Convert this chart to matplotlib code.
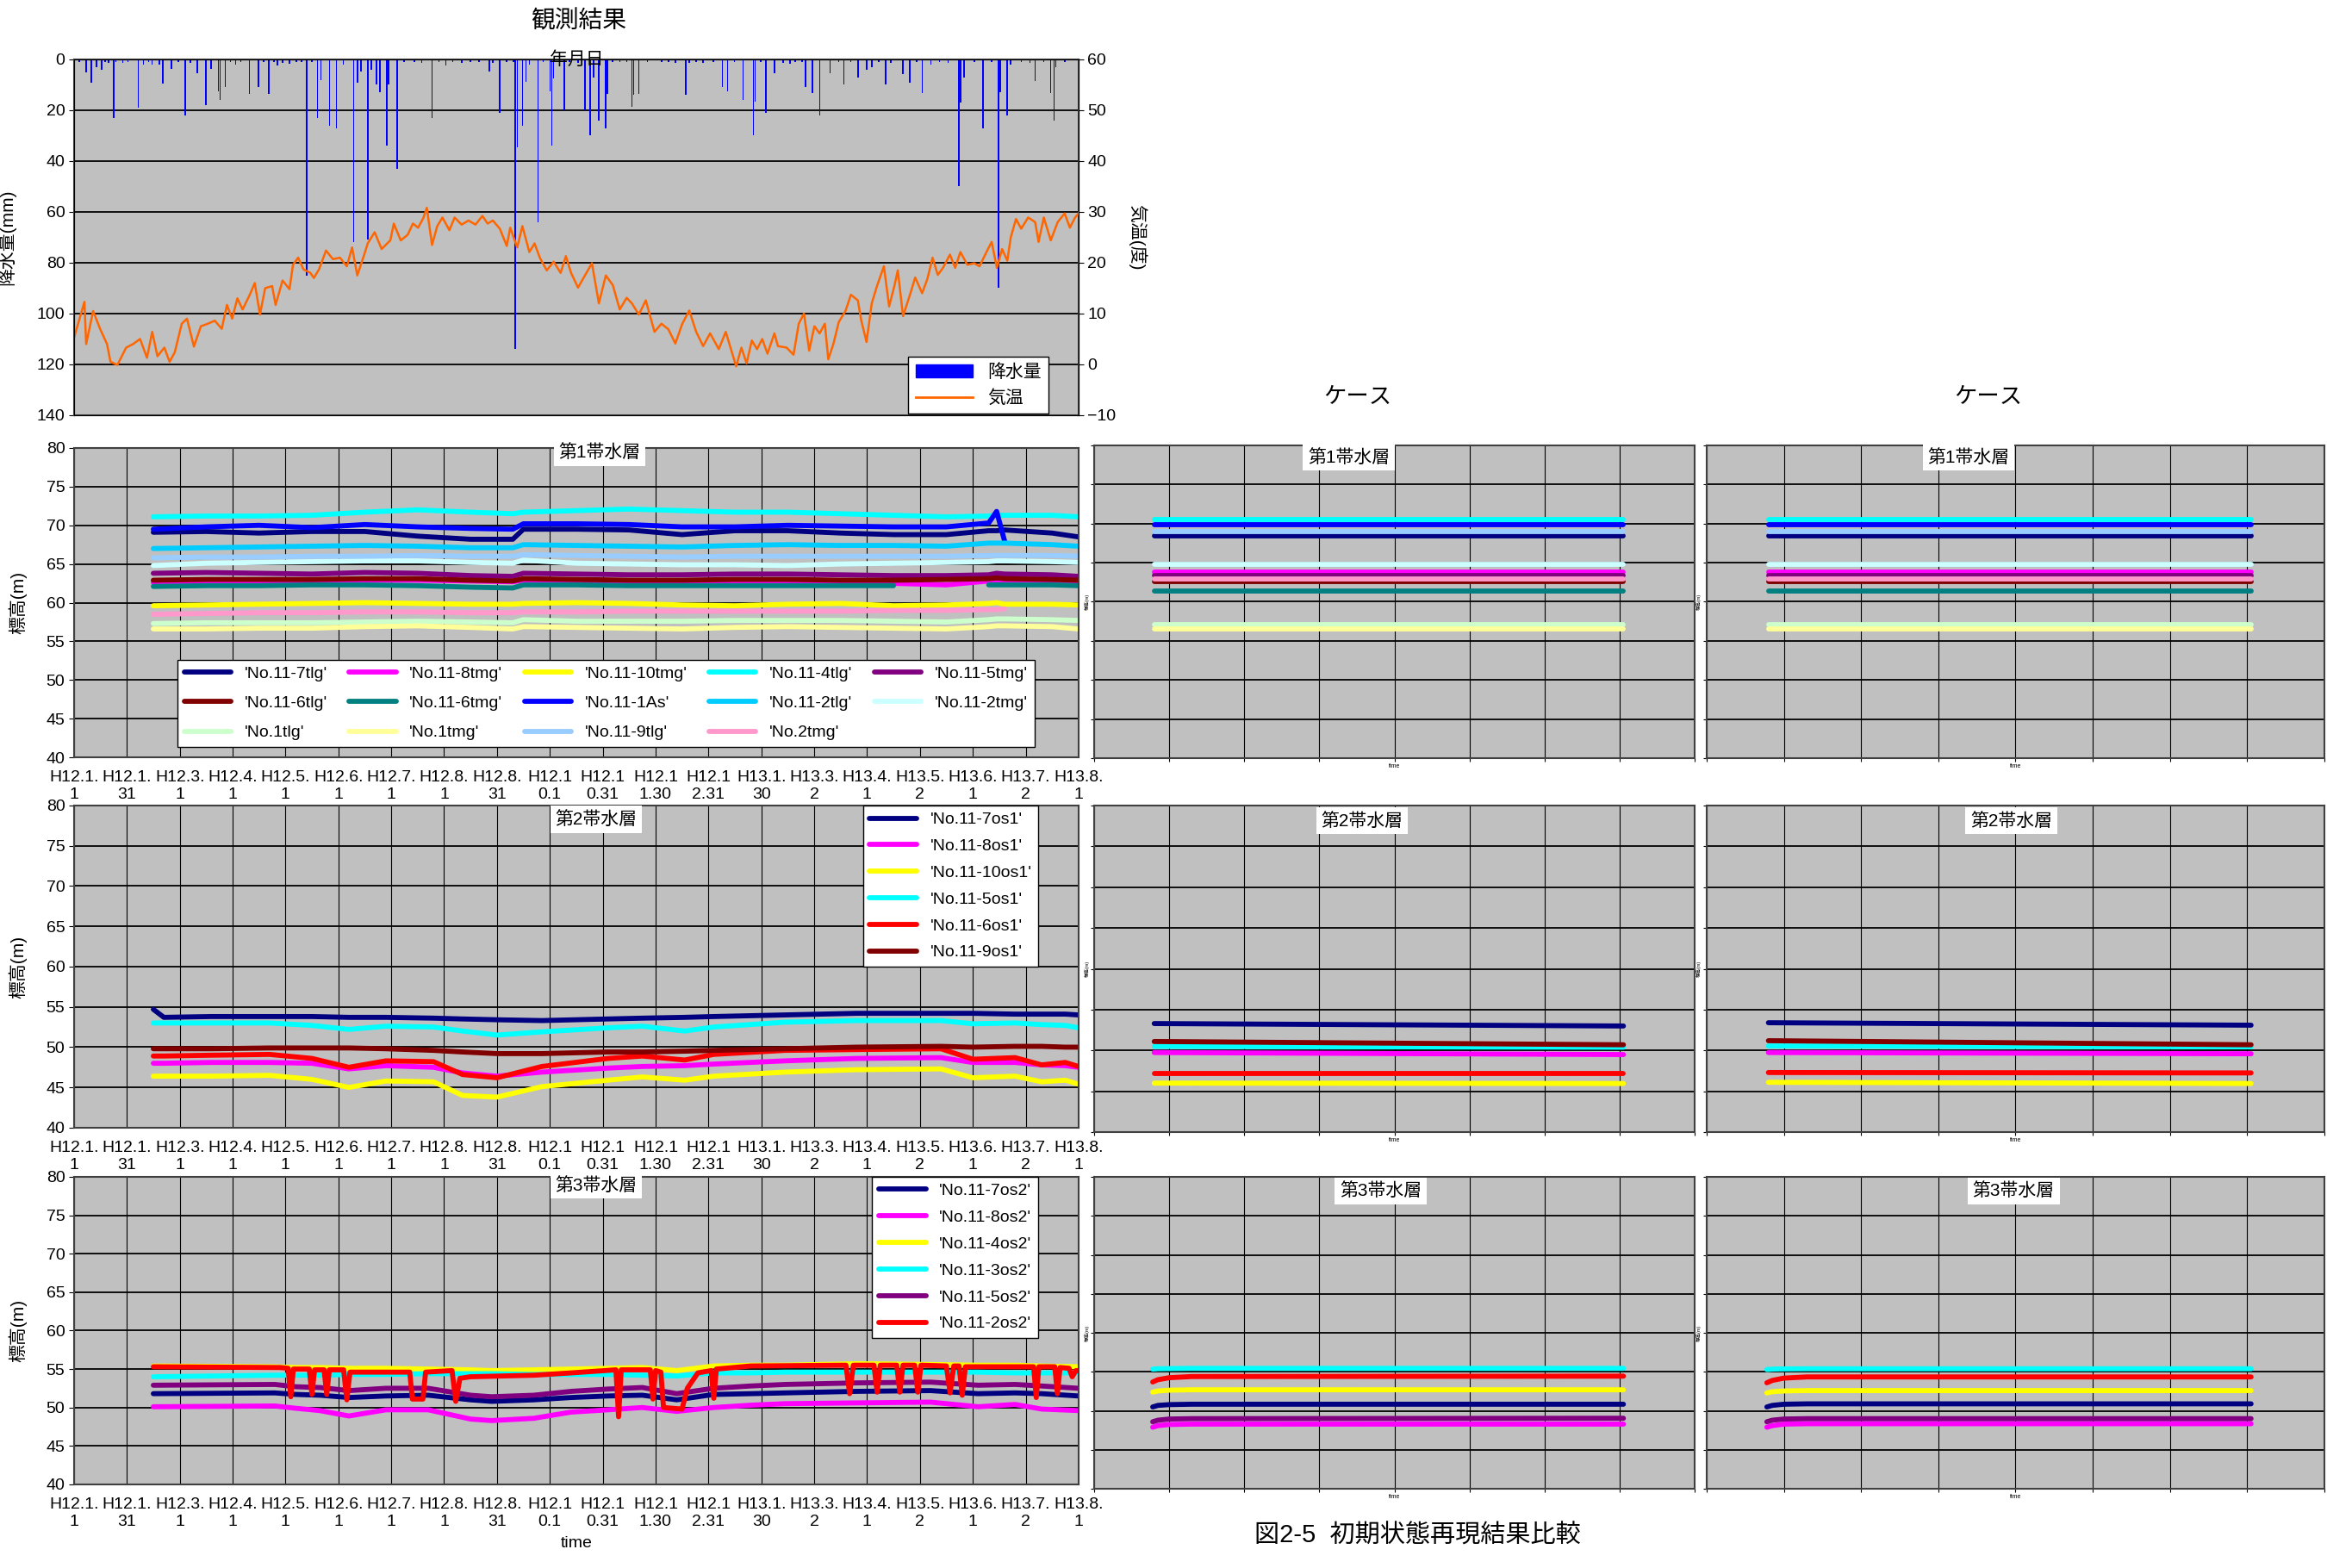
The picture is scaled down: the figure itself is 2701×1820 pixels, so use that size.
import matplotlib
matplotlib.use('Agg')
from matplotlib import pyplot as plt
from matplotlib.patches import Patch
from matplotlib.lines import Line2D

plt.rcParams['font.family'] = ['Liberation Sans', 'Noto Sans CJK JP', 'DejaVu Sans']

NA = float('nan')

# ---------------- observed weather (day 0 = H12.1.1) ----------------
N_DAYS = 578
RAIN_DAY = [7, 10, 13, 16, 18, 23, 24, 28, 37, 40, 45, 49, 51, 56, 64, 71, 76, 79, 83, 84,
            87, 96, 101, 106, 112, 115, 117, 124, 134, 137, 140, 142, 147, 151, 161, 163, 165,
            169, 171, 174, 176, 180, 181, 186, 206, 214, 223, 239, 245, 253, 254, 255, 258, 260,
            267, 274, 275, 276, 282, 294, 297, 299, 302, 306, 307, 314, 321, 322, 325, 338, 346,
            352, 354, 373, 376, 385, 391, 392, 398, 403, 412, 419, 421, 425, 429, 435, 443, 451,
            456, 459, 467, 477, 481, 488, 493, 509, 510, 512, 523, 532, 533, 537, 539, 553, 562,
            564, 565]
RAIN_MM = [5, 9, 3, 4, 1, 23, 1, 1.5, 19, 2, 2, 2, 9.5, 3.6, 22, 5.3, 18, 3.6, 12.6, 16,
           11, 1, 13.4, 11, 13.5, 1, 2.3, 1.6, 85, 1, 23, 8, 26, 27, 72, 9, 4.7,
           71, 4.2, 10, 13, 34, 10, 43, 23, 2.5, 1.4, 4.7, 21, 1, 114, 34.6, 26, 8.7,
           64, 12.4, 34, 7.6, 20, 20, 30, 7, 24, 27, 13.5, 1, 18.5, 13.8, 13.5, 1, 1.4,
           14, 1.4, 11, 12.4, 16, 30, 16.6, 21, 5.3, 1.6, 1, 11, 13.2, 22, 5.3, 10, 7,
           4.2, 3, 10, 5.9, 9.2, 13.2, 2, 50, 17, 7, 27, 90, 13, 22, 2.2, 8.4, 13.2,
           24, 3]
DRIZZLE_DAY = [3, 20, 31, 43, 60, 67, 90, 93, 109, 120, 128, 131, 155, 190, 196, 200, 210, 218,
               228, 233, 241, 249, 262, 270, 285, 290, 310, 318, 330, 342, 358, 362, 368, 380,
               395, 408, 415, 440, 447, 463, 470, 485, 498, 503, 518, 528, 545, 550, 558, 570]
DRIZZLE_MM = [1, 1.5, 1, 1, 1, 1.5, 1, 2, 1, 1.5, 1, 1, 2, 1, 1, 1.5, 1, 1,
              1, 1, 1.5, 1, 2, 1, 1, 1.5, 1, 1, 1, 1, 1, 1.5, 1, 1,
              1, 1.5, 1, 1, 1, 1, 1.5, 1, 1, 1.5, 1, 1, 1, 1.5, 1, 1]

TEMP_DAY = [0, 6, 7, 11, 15, 19, 21, 25, 30, 34, 38, 42, 45, 48, 52, 55, 58, 62, 65, 69,
            73, 77, 81, 85, 88, 91, 94, 97, 101, 104, 107, 110, 114, 116, 120, 124, 126, 129,
            132, 136, 138, 141, 145, 149, 153, 157, 160, 163, 167, 169, 173, 177, 182, 184, 188,
            192, 195, 198, 201, 203, 206, 209, 212, 216, 219, 223, 227, 231, 235, 238, 241, 245,
            249, 251, 255, 258, 262, 265, 268, 272, 276, 280, 283, 286, 290, 294, 298, 302, 306,
            310, 314, 318, 321, 325, 329, 334, 338, 342, 346, 350, 354, 358, 362, 366, 371, 375,
            378, 381, 384, 387, 390, 393, 396, 399, 403, 405, 410, 414, 417, 420, 423, 426, 429,
            432, 434, 437, 440, 444, 447, 451, 453, 456, 459, 462, 466, 469, 472, 474, 477, 481,
            484, 488, 491, 494, 497, 500, 504, 507, 510, 514, 518, 521, 525, 528, 531, 534, 537,
            539, 542, 545, 549, 553, 555, 558, 562, 566, 570, 573, 576, 578]
TEMP_C = [5.2, 12.3, 4.0, 10.5, 7.0, 4.0, 0.5, -0.1, 3.3, 4.0, 5.0, 1.3, 6.4, 1.6, 3.3, 0.5, 2.4,
          8.0, 9.0, 3.5, 7.5, 8.0, 8.6, 7.0, 11.7, 9.0, 13.0, 10.8, 13.6, 16.0, 9.8, 15.0, 15.4,
          11.7, 16.5, 14.8, 19.6, 21.0, 18.7, 18.0, 17.0, 18.7, 22.4, 20.7, 21.0, 19.3, 23.0,
          17.5, 21.6, 23.8, 26.0, 22.7, 24.4, 27.7, 24.4, 25.5, 27.7, 26.9, 28.8, 30.8, 23.5,
          27.2, 28.9, 26.4, 28.9, 27.5, 28.3, 27.5, 29.2, 27.7, 28.3, 26.7, 23.3, 26.9, 23.0,
          27.2, 22.1, 23.8, 21.0, 18.5, 20.2, 18.0, 21.3, 18.0, 15.1, 17.5, 19.9, 12.0, 17.5,
          15.6, 10.8, 13.1, 12.0, 9.8, 12.6, 6.4, 8.0, 6.9, 4.1, 8.0, 10.6, 6.4, 3.6, 6.1, 3.0,
          6.4, 3.0, -0.4, 3.3, 0.2, 4.7, 3.0, 5.0, 2.1, 6.1, 3.6, 3.3, 1.9, 8.0, 10.0, 2.7, 7.5,
          6.1, 8.0, 1.0, 4.1, 8.3, 10.6, 13.7, 12.6, 8.6, 4.4, 12.0, 15.4, 19.3, 11.4, 15.4,
          18.5, 9.5, 13.7, 17.1, 14.0, 16.8, 21.0, 17.6, 19.0, 21.6, 19.0, 22.1, 19.6, 19.9,
          19.3, 22.1, 24.1, 19.0, 22.7, 20.4, 25.0, 28.6, 26.7, 28.9, 28.0, 24.1, 28.9, 24.4,
          28.0, 29.7, 26.9, 28.9, 29.7]

DATE_LABELS = ['H12.1.\n1', 'H12.1.\n31', 'H12.3.\n1', 'H12.4.\n1', 'H12.5.\n1', 'H12.6.\n1',
               'H12.7.\n1', 'H12.8.\n1', 'H12.8.\n31', 'H12.1\n0.1', 'H12.1\n0.31', 'H12.1\n1.30',
               'H12.1\n2.31', 'H13.1.\n30', 'H13.3.\n2', 'H13.4.\n1', 'H13.5.\n2', 'H13.6.\n1',
               'H13.7.\n2', 'H13.8.\n1']

# ---------------- 第1帯水層 observed (time in date-label steps) ----------------
T1 = [1.5, 2.5, 3.5, 4.5, 5.5, 6.5, 7.5, 8.3, 8.5, 9.5, 10.5, 11.5, 12.5, 13.5, 14.5, 15.5,
      16.5, 17.3, 17.45, 17.6, 18.5, 19.0]
W1_7TLG = [69.1, 69.2, 69.0, 69.2, 69.2, 68.6, 68.2, 68.2, 69.5, 69.5, 69.4, 68.8, 69.3, 69.3, 69.0, 68.8, 68.8, 69.3, 69.3, 69.4, 69.0, 68.5]
W1_8TMG = [62.6, 62.7, 62.7, 62.8, 62.9, 62.9, 62.8, 62.7, 62.9, 62.8, 62.7, 62.7, 62.8, 62.8, 62.8, 62.5, 62.3, 62.8, 62.9, 62.9, 62.9, 62.8]
W1_10TMG = [59.6, 59.7, 59.8, 59.9, 60.0, 59.9, 59.8, 59.8, 59.9, 60.0, 59.9, 59.7, 59.6, 59.8, 59.9, 59.6, 59.7, 59.9, 60.0, 59.8, 59.8, 59.7]
W1_4TLG = [71.1, 71.2, 71.2, 71.3, 71.7, 72.0, 71.7, 71.5, 71.7, 71.9, 72.1, 71.9, 71.7, 71.7, 71.5, 71.3, 71.1, 71.2, 71.3, 71.3, 71.3, 71.1]
W1_5TMG = [63.8, 63.9, 63.8, 63.7, 63.9, 63.8, 63.5, 63.4, 63.8, 63.7, 63.6, 63.6, 63.7, 63.7, 63.6, 63.5, 63.5, 63.6, 63.8, 63.7, 63.6, 63.4]
W1_6TLG = [62.9, 63.0, 63.0, 63.0, 63.1, 63.1, 62.9, 62.8, 63.1, 63.0, 62.9, 62.9, 63.0, 63.0, 62.9, 62.9, 63.0, 63.1, 63.2, 63.1, 63.0, 62.9]
W1_6TMG = [62.1, 62.2, 62.2, 62.3, 62.3, 62.2, 62.0, 61.9, 62.3, 62.3, 62.2, 62.2, 62.2, 62.2, 62.2, 62.2, NA, 62.3, 62.3, 62.3, 62.3, 62.2]
W1_1AS = [69.5, 69.8, 70.0, 69.7, 70.1, 69.8, 69.6, 69.5, 70.2, 70.2, 70.1, 69.8, 69.8, 70.0, 69.9, 69.8, 69.8, 70.3, 71.8, 68.0, NA, NA]
W1_2TLG = [67.0, 67.1, 67.2, 67.3, 67.4, 67.3, 67.1, 67.1, 67.5, 67.4, 67.3, 67.2, 67.4, 67.5, 67.4, 67.4, 67.3, 67.7, 67.7, 67.7, 67.5, 67.3]
W1_2TMG = [64.8, 65.1, 65.2, 65.3, 65.4, 65.4, 65.2, 65.1, 65.5, 65.1, 65.0, 64.9, 64.9, 64.8, 65.0, 65.1, 65.2, 65.3, 65.4, 65.4, 65.3, 65.2]
W1_N1TLG = [57.3, 57.4, 57.4, 57.4, 57.5, 57.6, 57.5, 57.4, 57.8, 57.6, 57.6, 57.6, 57.7, 57.7, 57.7, 57.6, 57.5, 57.8, 57.9, 57.9, 57.8, 57.7]
W1_N1TMG = [56.6, 56.6, 56.7, 56.7, 56.9, 57.0, 56.8, 56.6, 56.9, 56.8, 56.7, 56.6, 56.8, 56.9, 56.8, 56.7, 56.6, 56.9, 57.0, 57.0, 56.9, 56.6]
W1_9TLG = [65.8, 65.9, 65.9, 66.0, 66.0, 66.1, 66.0, 66.0, 66.2, 66.1, 66.0, 65.9, 66.0, 66.0, 66.0, 66.0, 66.0, 66.1, 66.1, 66.1, 66.1, 66.0]
W1_N2TMG = [58.5, 58.6, 58.7, 58.7, 58.8, 58.8, 58.7, 58.7, 58.8, 58.8, 58.9, 58.9, 58.9, 58.9, 58.9, 59.0, 59.0, 59.1, 59.1, 59.2, NA, NA]

NAMES1 = ["'No.11-7tlg'", "'No.11-8tmg'", "'No.11-10tmg'", "'No.11-4tlg'", "'No.11-5tmg'",
          "'No.11-6tlg'", "'No.11-6tmg'", "'No.11-1As'", "'No.11-2tlg'", "'No.11-2tmg'",
          "'No.1tlg'", "'No.1tmg'", "'No.11-9tlg'", "'No.2tmg'"]
COLORS1 = ['#000080', '#FF00FF', '#FFFF00', '#00FFFF', '#800080',
           '#800000', '#008080', '#0000FF', '#00CCFF', '#CCFFFF',
           '#CCFFCC', '#FFFF99', '#99CCFF', '#FF99CC']

# ---------------- 第2帯水層 observed ----------------
T2 = [1.5, 1.7, 2.6, 3.7, 4.5, 5.2, 5.9, 6.8, 7.35, 8.0, 8.85, 10.1, 10.75, 11.55, 12.1,
      13.45, 14.8, 16.4, 17.0, 17.8, 18.3, 18.75, 19.0]
W2_7OS1 = [54.7, 53.7, 53.8, 53.8, 53.8, 53.7, 53.7, 53.6, 53.5, 53.4, 53.3, 53.5, 53.6, 53.7, 53.8, 54.0, 54.2, 54.2, 54.2, 54.1, 54.1, 54.1, 54.0]
W2_8OS1 = [48.0, 48.0, 48.1, 48.1, 48.0, 47.3, 47.7, 47.5, 46.8, 46.4, 46.9, 47.4, 47.6, 47.7, 47.9, 48.3, 48.6, 48.7, 48.1, 48.1, 47.8, 47.7, 47.5]
W2_10OS1 = [46.4, 46.4, 46.4, 46.5, 46.0, 45.0, 45.8, 45.7, 44.0, 43.8, 45.1, 45.9, 46.3, 45.9, 46.4, 46.9, 47.2, 47.3, 46.2, 46.4, 45.7, 45.9, 45.4]
W2_5OS1 = [53.0, 53.0, 53.0, 53.0, 52.7, 52.2, 52.6, 52.5, 52.0, 51.5, 51.9, 52.4, 52.6, 52.0, 52.5, 53.1, 53.3, 53.3, 52.9, 53.0, 52.8, 52.7, 52.4]
W2_6OS1 = [48.9, 48.9, 49.0, 49.1, 48.6, 47.5, 48.3, 48.2, 46.6, 46.2, 47.6, 48.6, 48.9, 48.4, 49.1, 49.6, 49.7, 49.8, 48.5, 48.7, 47.8, 48.1, 47.6]
W2_9OS1 = [49.8, 49.8, 49.8, 49.9, 49.9, 49.9, 49.8, 49.6, 49.4, 49.2, 49.2, 49.4, 49.4, 49.5, 49.6, 49.8, 50.0, 50.1, 50.0, 50.1, 50.1, 50.0, 50.0]
NAMES2 = ["'No.11-7os1'", "'No.11-8os1'", "'No.11-10os1'", "'No.11-5os1'", "'No.11-6os1'", "'No.11-9os1'"]
COLORS2 = ['#000080', '#FF00FF', '#FFFF00', '#00FFFF', '#FF0000', '#800000']

# ---------------- 第3帯水層 observed ----------------
T3 = [1.5, 3.8, 4.2, 4.65, 5.2, 5.9, 6.7, 7.5, 7.9, 8.7, 9.4, 10.1, 10.75, 11.4, 12.1, 12.8,
      13.45, 14.8, 16.2, 17.1, 17.8, 18.3, 19.0]
W3_7OS2 = [51.8, 51.9, 51.7, 51.6, 51.3, 51.5, 51.6, 51.0, 50.8, 51.0, 51.3, 51.5, 51.6, 51.0, 51.7, 51.8, 51.9, 52.1, 52.2, 51.8, 51.9, 51.8, 51.5]
W3_8OS2 = [50.1, 50.2, 49.9, 49.6, 48.9, 49.7, 49.7, 48.5, 48.3, 48.6, 49.4, 49.7, 50.0, 49.5, 50.0, 50.3, 50.5, 50.6, 50.7, 50.1, 50.4, 49.8, 49.6]
W3_4OS2 = [55.4, 55.3, 55.2, 55.2, 55.1, 55.1, 55.0, 54.9, 54.8, 54.9, 55.0, 55.1, 55.2, 54.8, 55.4, 55.5, 55.5, 55.7, 55.6, 55.5, 55.5, 55.4, 55.3]
W3_3OS2 = [54.0, 54.2, 54.2, 54.2, 54.3, 54.3, 54.4, 54.4, 54.4, 54.3, 54.3, 54.3, 54.2, 54.1, 54.5, 54.5, 54.6, 54.6, 54.6, 54.6, 54.5, 54.5, 54.5]
W3_5OS2 = [52.9, 53.0, 52.7, 52.6, 52.2, 52.5, 52.5, 51.6, 51.4, 51.6, 52.1, 52.4, 52.6, 51.8, 52.5, 52.8, 53.0, 53.2, 53.3, 52.9, 53.0, 52.8, 52.5]
# No.11-2os2 has sharp pumping drawdowns, so it has its own time list
T3_2OS2 = [1.5, 3.9, 4.05, 4.1, 4.15, 4.45, 4.5, 4.55, 4.73, 4.78, 4.83, 5.1, 5.16, 5.22, 6.35,
           6.4, 6.6, 6.65, 7.15, 7.22, 7.3, 7.5, 8.7, 9.4, 10.25, 10.3, 10.35, 10.9, 10.95, 11.0,
           11.1, 11.15, 11.5, 11.6, 11.8, 12.05, 12.1, 12.15, 12.8, 14.6, 14.67, 14.74, 15.13,
           15.19, 15.25, 15.56, 15.62, 15.68, 15.9, 15.96, 16.02, 16.5, 16.57, 16.64, 16.74,
           16.8, 16.86, 18.15, 18.2, 18.25, 18.55, 18.6, 18.65, 18.82, 18.88, 18.95, 19.0]
W3_2OS2 = [55.3, 55.2, 55.1, 51.4, 55.0, 55.0, 51.7, 54.9, 54.9, 51.7, 54.9, 54.9, 51.0, 54.6, 54.6,
           51.1, 51.1, 54.6, 54.8, 50.8, 53.8, 54.0, 54.2, 54.5, 54.9, 48.8, 54.9, 54.9, 51.1, 54.8,
           54.6, 50.0, 49.8, 52.5, 54.5, 54.8, 51.2, 55.0, 55.4, 55.5, 51.8, 55.5, 55.5,
           52.0, 55.5, 55.5, 52.0, 55.5, 55.5, 52.0, 55.5, 55.4, 51.9, 55.4, 55.4,
           51.6, 55.3, 55.3, 51.3, 55.3, 55.3, 51.8, 55.2, 55.1, 54.0, 54.8, 54.8]
NAMES3 = ["'No.11-7os2'", "'No.11-8os2'", "'No.11-4os2'", "'No.11-3os2'", "'No.11-5os2'", "'No.11-2os2'"]
COLORS3 = ['#000080', '#FF00FF', '#FFFF00', '#00FFFF', '#800080', '#FF0000']

# ---------------- ケース (model) results, time in 8 panel steps ----------------
TC = [0.8, 7.05]
CASE_A1 = [[68.4, 68.4], [63.8, 63.8], [70.5, 70.5], [63.3, 63.3], [62.6, 62.6], [61.4, 61.4],
           [69.9, 69.9], [64.75, 64.75], [57.1, 57.1], [56.5, 56.5], [69.0, 69.0], [62.9, 62.9]]
CASE_B1 = [[68.4, 68.4], [63.8, 63.8], [70.5, 70.5], [63.3, 63.3], [62.6, 62.6], [61.4, 61.4],
           [69.9, 69.9], [64.75, 64.75], [57.1, 57.1], [56.5, 56.5], [69.0, 69.0], [62.9, 62.9]]
CASE1_COLORS = ['#000080', '#FF00FF', '#00FFFF', '#800080', '#800000', '#008080',
                '#0000FF', '#CCFFFF', '#CCFFCC', '#FFFF99', '#99CCFF', '#FF99CC']
CASE_A2 = [[53.3, 53.0], [49.75, 49.5], [46.0, 45.95], [50.5, 50.4], [47.2, 47.2], [51.1, 50.7]]
CASE_B2 = [[53.4, 53.1], [49.75, 49.6], [46.1, 45.95], [50.55, 50.45], [47.3, 47.25], [51.2, 50.7]]
TC3 = [0.78, 0.85, 1.0, 1.3, 7.05]
CASE_A3 = [[50.5, 50.7, 50.8, 50.85, 50.85], [47.9, 48.1, 48.25, 48.3, 48.3],
           [52.4, 52.55, 52.65, 52.7, 52.7], [55.35, 55.4, 55.42, 55.45, 55.45],
           [48.6, 48.8, 48.95, 49.0, 49.05], [53.7, 54.0, 54.25, 54.4, 54.45]]
CASE_B3 = [[50.5, 50.7, 50.85, 50.9, 50.9], [47.9, 48.1, 48.3, 48.35, 48.35],
           [52.3, 52.45, 52.55, 52.6, 52.6], [55.3, 55.35, 55.38, 55.4, 55.4],
           [48.6, 48.8, 48.95, 49.0, 49.0], [53.6, 53.9, 54.2, 54.35, 54.35]]

GREY = '#C0C0C0'
LW = 4.2


def base_panel(ax, ncols, title, tx, ty):
    ax.set_facecolor(GREY)
    ax.set_xlim(0, ncols)
    ax.set_ylim(40, 80)
    ax.set_xticks(range(ncols + 1))
    ax.set_yticks(range(40, 81, 5))
    ax.grid(axis='y', color='black', lw=1.3)
    ax.grid(axis='x', color='black', lw=0.8)
    ax.set_axisbelow(True)
    for s in ax.spines.values():
        s.set_color('#404040')
        s.set_linewidth(1.5)
    ax.text(tx, ty, title, transform=ax.transAxes, ha='center', va='center', fontsize=15,
            zorder=6, bbox=dict(fc='white', ec='none', pad=4))


def obs_panel(ax, title, tx, ty):
    base_panel(ax, 19, title, tx, ty)
    ax.set_xticklabels(DATE_LABELS, fontsize=14, linespacing=1.2)
    ax.tick_params(axis='x', length=0, pad=11)
    ax.tick_params(axis='y', labelsize=14, length=4)
    ax.set_ylabel('標高(m)', fontsize=15)
    ax.yaxis.set_label_coords(-0.047, 0.5)


def case_panel(ax, title, tx, ty):
    base_panel(ax, 8, title, tx, ty)
    ax.tick_params(labelleft=False, labelbottom=False, length=3)
    ax.set_ylabel('標高(m)', fontsize=4, labelpad=1)
    ax.set_xlabel('time', fontsize=5, labelpad=1)


fig = plt.figure(figsize=(27.01, 18.20), dpi=100)

# ---------------- weather ----------------
ax_w = fig.add_axes([0.0318, 0.7352, 0.4317, 0.2269])
ax_w.set_facecolor(GREY)
ax_w.bar(RAIN_DAY + DRIZZLE_DAY, RAIN_MM + DRIZZLE_MM, width=0.8, color='#0000FF', lw=0)
ax_w.set_xlim(0, N_DAYS)
ax_w.set_ylim(140, 0)
ax_w.set_yticks(range(0, 141, 20))
ax_w.set_xticks([])
ax_w.grid(axis='y', color='black', lw=1.3)
ax_w.set_axisbelow(True)
ax_w.tick_params(axis='y', labelsize=14, length=4)
ax_w.set_ylabel('降水量(mm)', fontsize=15)
ax_w.yaxis.set_label_coords(-0.058, 0.5)
for s in ax_w.spines.values():
    s.set_color('#404040')
    s.set_linewidth(1.5)

ax_t = ax_w.twinx()
ax_t.plot(TEMP_DAY, TEMP_C, color='#FF6600', lw=1.8)
ax_t.set_ylim(-10, 60)
ax_t.set_yticks(range(-10, 61, 10))
ax_t.tick_params(axis='y', labelsize=14, length=4)
ax_t.set_ylabel('気温(度)', fontsize=15, rotation=270, va='center')
ax_t.yaxis.set_label_coords(1.058, 0.5)
ax_t.legend(handles=[Patch(color='#0000FF'), Line2D([], [], color='#FF6600', lw=2)],
            labels=['降水量', '気温'], loc='lower right', bbox_to_anchor=(0.97, 0.004),
            fontsize=15, fancybox=False, edgecolor='black', framealpha=1,
            handlelength=3.2, borderaxespad=0)
ax_w.text(0.5, 1.0, '年月日', transform=ax_w.transAxes, ha='center', va='center', fontsize=15)
fig.text(0.2488, 0.986, '観測結果', ha='center', va='center', fontsize=20)

# ---------------- 第1帯水層 ----------------
ax1 = fig.add_axes([0.0318, 0.5170, 0.4317, 0.1973])
obs_panel(ax1, '第1帯水層', 0.523, 0.985)
series1 = [W1_7TLG, W1_8TMG, W1_10TMG, W1_4TLG, W1_5TMG, W1_6TLG, W1_6TMG, W1_1AS,
           W1_2TLG, W1_2TMG, W1_N1TLG, W1_N1TMG, W1_9TLG, W1_N2TMG]
lines1 = []
for vals, name, col in zip(series1, NAMES1, COLORS1):
    ln, = ax1.plot(T1, vals, color=col, lw=LW, label=name, solid_capstyle='round')
    lines1.append(ln)
# legend is filled column by column, so regroup to read row by row
order = [0, 5, 10, 1, 6, 11, 2, 7, 12, 3, 8, 13, 4, 9]
ax1.legend([lines1[i] for i in order], [NAMES1[i] for i in order], ncol=5, loc='lower left',
           bbox_to_anchor=(0.103, 0.033, 0.853, 0.277), mode='expand', fontsize=14,
           fancybox=False, edgecolor='black', framealpha=1, handlelength=2.8,
           borderaxespad=0, labelspacing=0.85)

# ---------------- 第2帯水層 ----------------
ax2 = fig.add_axes([0.0318, 0.2808, 0.4317, 0.2055])
obs_panel(ax2, '第2帯水層', 0.52, 0.957)
for vals, name, col in zip([W2_7OS1, W2_8OS1, W2_10OS1, W2_5OS1, W2_6OS1, W2_9OS1], NAMES2, COLORS2):
    ax2.plot(T2, vals, color=col, lw=LW, label=name, solid_capstyle='round')
ax2.legend(loc='upper right', bbox_to_anchor=(0.96, 1.0), fontsize=14, fancybox=False,
           edgecolor='black', framealpha=1, handlelength=2.8, borderaxespad=0, labelspacing=0.68)

# ---------------- 第3帯水層 ----------------
ax3 = fig.add_axes([0.0318, 0.0533, 0.4317, 0.1962])
obs_panel(ax3, '第3帯水層', 0.52, 0.972)
for vals, name, col in zip([W3_7OS2, W3_8OS2, W3_4OS2, W3_3OS2, W3_5OS2], NAMES3[:5], COLORS3[:5]):
    ax3.plot(T3, vals, color=col, lw=LW, label=name, solid_capstyle='round')
ax3.plot(T3_2OS2, W3_2OS2, color=COLORS3[5], lw=LW, label=NAMES3[5], solid_capstyle='round')
ax3.legend(loc='upper right', bbox_to_anchor=(0.96, 1.0), fontsize=14, fancybox=False,
           edgecolor='black', framealpha=1, handlelength=2.8, borderaxespad=0, labelspacing=0.68)
ax3.set_xlabel('time', fontsize=14, labelpad=6)

# ---------------- ケース panels ----------------
cols = [(0.4702, 0.2581), (0.7334, 0.2655)]
rows = [(0.5165, 0.1995), (0.2780, 0.2082), (0.0505, 0.1989)]
case_sets = [
    (CASE_A1, CASE_B1, TC, CASE1_COLORS, '第1帯水層', (0.424, 0.424), 0.962),
    (CASE_A2, CASE_B2, TC, COLORS2, '第2帯水層', (0.446, 0.493), 0.954),
    (CASE_A3, CASE_B3, TC3, COLORS3, '第3帯水層', (0.477, 0.497), 0.955),
]
for (bottom, height), (ca, cb, tt, colors, title, txs, ty) in zip(rows, case_sets):
    for (left, width), case, tx in zip(cols, (ca, cb), txs):
        ax = fig.add_axes([left, bottom, width, height])
        case_panel(ax, title, tx, ty)
        for vals, col in zip(case, colors):
            ax.plot(tt, vals, color=col, lw=LW, solid_capstyle='round')

fig.text(0.5835, 0.747, 'ケース', ha='center', va='center', fontsize=19)
fig.text(0.8546, 0.747, 'ケース', ha='center', va='center', fontsize=19)
fig.text(0.609, 0.0204, '図2-5  初期状態再現結果比較', ha='center', va='center', fontsize=21)

fig.savefig('out.png', dpi=100)
